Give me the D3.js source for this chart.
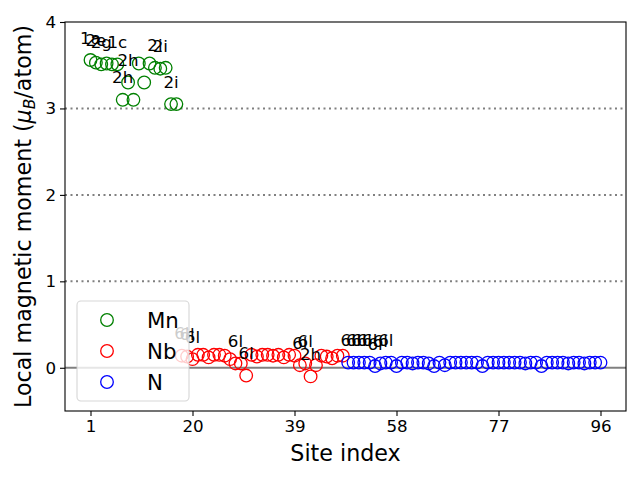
<!DOCTYPE html>
<html>
<head>
<meta charset="utf-8">
<script src="https://cdn.jsdelivr.net/npm/d3@7"></script>
<style>
  body { margin: 0; background: #fff; }
  svg { display: block; font-family: "DejaVu Sans", sans-serif; }
</style>
</head>
<body>
<svg id="chart" width="640" height="480"></svg>
<script>
// ---- data ----
const mnValues = [3.56, 3.53, 3.51, 3.52, 3.51, 3.51, 3.10, 3.30, 3.10, 3.52, 3.30, 3.52, 3.47, 3.46, 3.47, 3.05, 3.05];
const nbValues = [0.14, 0.13, 0.10, 0.15, 0.15, 0.12, 0.15, 0.15, 0.14, 0.10, 0.05, 0.05, -0.09, 0.15, 0.13, 0.15, 0.15, 0.14, 0.15, 0.12, 0.15, 0.14, 0.03, 0.05, -0.10, 0.03, 0.14, 0.13, 0.11, 0.14, 0.14];
const nValues = [0.06, 0.06, 0.06, 0.06, 0.06, 0.02, 0.05, 0.06, 0.06, 0.02, 0.06, 0.06, 0.05, 0.06, 0.06, 0.05, 0.02, 0.06, 0.03, 0.06, 0.06, 0.06, 0.06, 0.06, 0.06, 0.02, 0.06, 0.06, 0.06, 0.06, 0.06, 0.06, 0.06, 0.05, 0.06, 0.06, 0.02, 0.06, 0.06, 0.06, 0.06, 0.05, 0.06, 0.06, 0.05, 0.06, 0.06, 0.06];
const seriesNames = ["Mn", "Nb", "N"];
const seriesColors = ["green", "red", "blue"];
const labelSites = [1, 2, 3, 6, 7, 8, 13, 14, 16, 18, 19, 20, 28, 30, 40, 41, 42, 49, 50, 51, 52, 53, 54, 55, 56];
const labelTexts = ["1a", "2e", "2g", "1c", "2h", "2h", "2i", "2i", "2i", "6l", "6l", "6l", "6l", "6l", "6l", "6l", "2h", "6l", "6l", "6l", "6l", "6l", "6l", "6l", "6l"];
const xTicks = [1, 20, 39, 58, 77, 96];
const yTicks = [0, 1, 2, 3, 4];
const gridLevels = [1, 2, 3];

// ---- build points ----
const allSeries = [mnValues, nbValues, nValues];
const points = [];
let site = 1;
allSeries.forEach((vals, si) => {
  vals.forEach(v => { points.push({ site: site, value: v, s: si }); site++; });
});
const valueBySite = new Map(points.map(p => [p.site, p.value]));

// ---- layout ----
const margin = { left: 65, right: 14, top: 22, bottom: 69 };
const W = 640, H = 480;
const svg = d3.select("#chart");
const x = d3.scaleLinear().domain([-3.75, 100.75]).range([margin.left, W - margin.right]);
const y = d3.scaleLinear().domain([-0.5, 4]).range([H - margin.bottom, margin.top]);

const g = svg.append("g");

// grid lines
g.selectAll("line.grid").data(gridLevels).enter().append("line")
  .attr("x1", x.range()[0]).attr("x2", x.range()[1])
  .attr("y1", d => y(d)).attr("y2", d => y(d))
  .attr("stroke", "gray").attr("stroke-width", 2)
  .attr("stroke-dasharray", "2,3.5");

// zero line
g.append("line")
  .attr("x1", x.range()[0]).attr("x2", x.range()[1])
  .attr("y1", y(0)).attr("y2", y(0))
  .attr("stroke", "gray").attr("stroke-width", 2);

// points
g.selectAll("circle.pt").data(points).enter().append("circle")
  .attr("cx", d => x(d.site)).attr("cy", d => y(d.value)).attr("r", 6.3)
  .attr("fill", "none").attr("stroke", d => seriesColors[d.s]).attr("stroke-width", 1.3);

// annotations
g.selectAll("text.ann").data(labelSites.map((s, i) => ({ site: s, text: labelTexts[i] }))).enter()
  .append("text")
  .attr("x", d => x(d.site)).attr("y", d => y(valueBySite.get(d.site)) - 16.5)
  .attr("text-anchor", "middle").attr("font-size", "16.7px").attr("fill", "black")
  .text(d => d.text);

// axes
const xAxis = d3.axisBottom(x).tickValues(xTicks).tickSize(5).tickPadding(4).tickFormat(d3.format("d"));
const yAxis = d3.axisLeft(y).tickValues(yTicks).tickSize(5).tickPadding(4).tickFormat(d3.format("d"));
const gx = svg.append("g").attr("transform", `translate(0,${H - margin.bottom})`).call(xAxis);
const gy = svg.append("g").attr("transform", `translate(${margin.left},0)`).call(yAxis);
[gx, gy].forEach(a => {
  a.select(".domain").remove();
  a.selectAll("text").attr("font-size", "16.7px").attr("font-family", "DejaVu Sans").attr("fill", "black");
  a.selectAll("line").attr("stroke", "black").attr("stroke-width", 1.1);
});

// frame
svg.append("rect")
  .attr("x", margin.left).attr("y", margin.top)
  .attr("width", W - margin.left - margin.right).attr("height", H - margin.top - margin.bottom)
  .attr("fill", "none").attr("stroke", "black").attr("stroke-width", 1.1);

// axis titles
svg.append("text").attr("x", (margin.left + W - margin.right) / 2).attr("y", 461)
  .attr("text-anchor", "middle").attr("font-size", "22.2px").text("Site index");
const yl = svg.append("text")
  .attr("transform", `translate(31,${(margin.top + H - margin.bottom) / 2}) rotate(-90)`)
  .attr("text-anchor", "middle").attr("font-size", "22.2px");
yl.append("tspan").text("Local magnetic moment (");
yl.append("tspan").attr("font-style", "italic").text("μ");
yl.append("tspan").attr("font-style", "italic").attr("font-size", "15.5px").attr("dy", 4).text("B");
yl.append("tspan").attr("dy", -4).text("/atom)");

// legend
const lg = svg.append("g");
lg.append("rect").attr("x", 77).attr("y", 301).attr("width", 112).attr("height", 100).attr("rx", 4)
  .attr("fill", "white").attr("fill-opacity", 0.8)
  .attr("stroke", "#cccccc").attr("stroke-opacity", 0.8).attr("stroke-width", 1.1);
seriesNames.forEach((name, i) => {
  const cy = 320 + i * 31;
  lg.append("circle").attr("cx", 107).attr("cy", cy).attr("r", 6.3)
    .attr("fill", "none").attr("stroke", seriesColors[i]).attr("stroke-width", 1.3);
  lg.append("text").attr("x", 147).attr("y", cy + 7.5).attr("font-size", "21.3px").text(name);
});
</script>
</body>
</html>
